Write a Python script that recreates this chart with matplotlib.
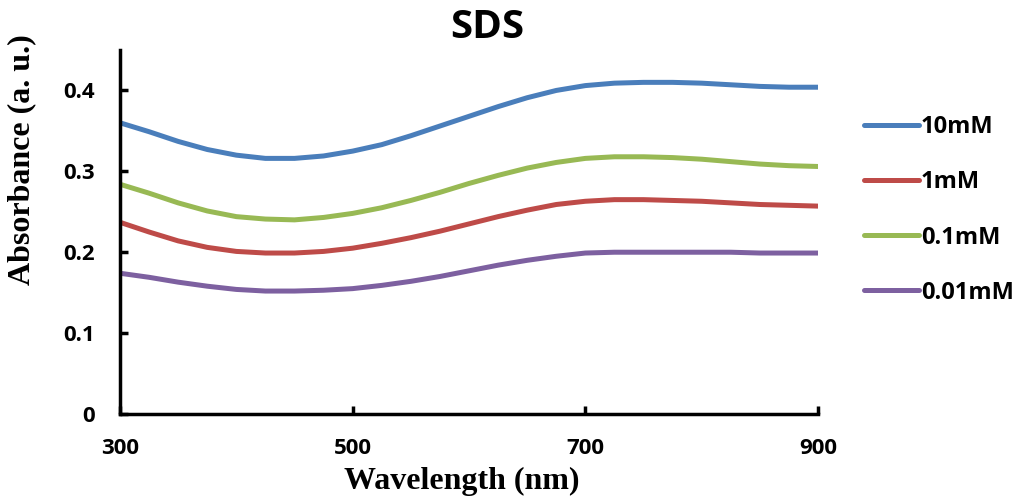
import matplotlib
matplotlib.use("Agg")
import matplotlib.pyplot as plt

wavelength = [300, 325, 350, 375, 400, 425, 450, 475, 500, 525, 550, 575, 600,
              625, 650, 675, 700, 725, 750, 775, 800, 825, 850, 875, 900]
abs_10mM = [0.360, 0.349, 0.337, 0.327, 0.320, 0.316, 0.316, 0.319, 0.325, 0.333, 0.344, 0.356, 0.368,
            0.380, 0.391, 0.400, 0.406, 0.409, 0.410, 0.410, 0.409, 0.407, 0.405, 0.404, 0.404]
abs_1mM = [0.237, 0.225, 0.214, 0.206, 0.201, 0.199, 0.199, 0.201, 0.205, 0.211, 0.218, 0.226, 0.235,
           0.244, 0.252, 0.259, 0.263, 0.265, 0.265, 0.264, 0.263, 0.261, 0.259, 0.258, 0.257]
abs_01mM = [0.284, 0.273, 0.261, 0.251, 0.244, 0.241, 0.240, 0.243, 0.248, 0.255, 0.264, 0.274, 0.285,
            0.295, 0.304, 0.311, 0.316, 0.318, 0.318, 0.317, 0.315, 0.312, 0.309, 0.307, 0.306]
abs_001mM = [0.174, 0.169, 0.163, 0.158, 0.154, 0.152, 0.152, 0.153, 0.155, 0.159, 0.164, 0.170, 0.177,
             0.184, 0.190, 0.195, 0.199, 0.200, 0.200, 0.200, 0.200, 0.200, 0.199, 0.199, 0.199]
labels = ["10mM", "1mM", "0.1mM", "0.01mM"]
colors = ["#4A7EBB", "#BE4B48", "#98B954", "#7D60A0"]
xticks = [300, 500, 700, 900]
yticks = [0, 0.1, 0.2, 0.3, 0.4]
ytick_labels = ["0", "0.1", "0.2", "0.3", "0.4"]

fig = plt.figure(figsize=(10.19, 4.99), dpi=100)
ax = fig.add_axes([120/1019, 1-414/499, 698/1019, 364/499])

for ys, lab, c in zip([abs_10mM, abs_1mM, abs_01mM, abs_001mM], labels, colors):
    ax.plot(wavelength, ys, color=c, lw=3.6, label=lab,
            solid_capstyle='round', solid_joinstyle='round')

ax.set_xlim(300, 900)
ax.set_ylim(0, 0.45)
ax.set_xticks(xticks)
ax.set_yticks(yticks)
ax.set_yticklabels(ytick_labels)
for s in ["top", "right"]:
    ax.spines[s].set_visible(False)
for s in ["left", "bottom"]:
    ax.spines[s].set_linewidth(2.5)
ax.tick_params(direction='in', length=6, width=2.5, labelsize=16, pad=18)
ax.tick_params(axis='x', pad=17)
for t in ax.get_xticklabels() + ax.get_yticklabels():
    t.set_fontweight('bold')
    t.set_family('Open Sans')

ax.set_xlabel("Wavelength (nm)", family='Liberation Serif', fontweight='bold', fontsize=23)
ax.set_ylabel("Absorbance (a. u.)", family='Liberation Serif', fontweight='bold', fontsize=23)
ax.xaxis.set_label_coords(0.49, -0.145)
ax.yaxis.set_label_coords(-0.12, 0.70)

fig.text(487/1019, 1-27/499, "SDS", ha='center', va='center', fontsize=29,
         fontweight='bold', family='Open Sans')

leg = ax.legend(loc='upper left', bbox_to_anchor=(843/1019, 1-94/499),
                bbox_transform=fig.transFigure, frameon=False, handlelength=2.3,
                handletextpad=0.1, labelspacing=1.32,
                prop={'family': 'Open Sans', 'weight': 'bold', 'size': 17})

fig.savefig("out.png", dpi=100)
